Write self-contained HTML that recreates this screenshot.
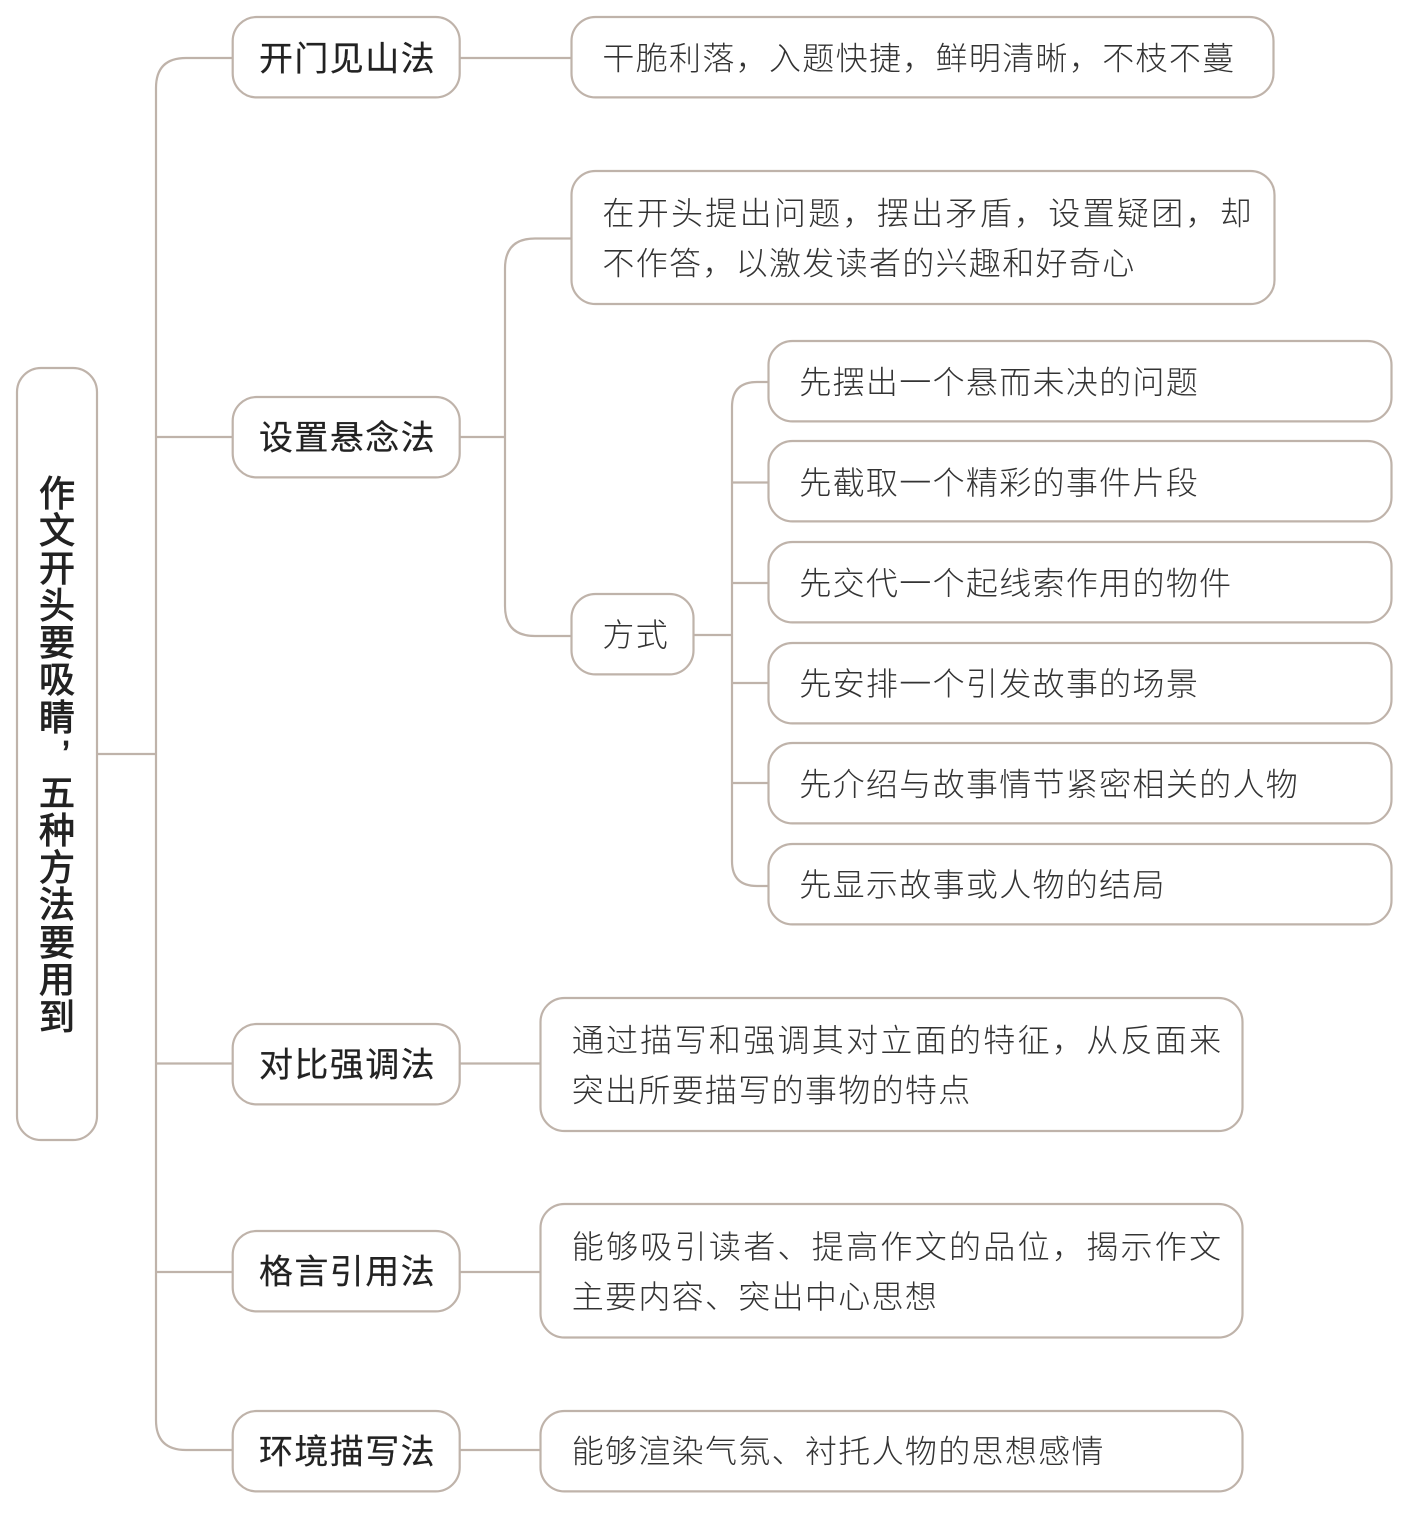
<!DOCTYPE html>
<html lang="zh"><head><meta charset="utf-8"><style>
html,body{margin:0;padding:0;background:#fff}
svg{display:block}
text{font-family:"Liberation Sans","Noto Sans CJK SC",sans-serif;white-space:pre}
.t{font-size:32px;letter-spacing:1.32px;fill:#333;font-weight:300}
.w{letter-spacing:2.3px}
.h{font-size:34px;letter-spacing:1.4px;fill:#222;font-weight:400;stroke:#222;stroke-width:.2px}
.r{font-size:36px;fill:#222;font-weight:400;stroke:#222;stroke-width:.9px}
.b{fill:#fff;stroke:#bfb3aa;stroke-width:2.2}
.l{fill:none;stroke:#bfb3aa;stroke-width:2.2}
</style></head><body>
<svg xmlns="http://www.w3.org/2000/svg" width="1409" height="1514" viewBox="0 0 1409 1514">
<rect width="1409" height="1514" fill="#fff"/>
<path class="l" d="M97 754H156M232 58H186Q156 58 156 88V1420Q156 1450 186 1450H232M156 437H232M156 1063.5H232M156 1272H232"/>
<path class="l" d="M460 58H571M460 437H505M571 238.500H535Q505 238.500 505 268.500V606Q505 636 535 636H571M460 1063.500H540M460 1272H540M460 1450H540"/>
<path class="l" d="M694 635H732M768 382H757Q732 382 732 407V861Q732 886 757 886H768M732 482.500H768M732 583H768M732 683H768M732 783H768"/>
<rect class="b" x="17" y="368" width="80" height="772" rx="24"/>
<g>
<rect class="b" x="232.700" y="17" width="227" height="80.400" rx="24"/>
<rect class="b" x="232.700" y="397" width="227" height="80.400" rx="24"/>
<rect class="b" x="232.700" y="1024" width="227" height="80.400" rx="24"/>
<rect class="b" x="232.700" y="1231" width="227" height="80.400" rx="24"/>
<rect class="b" x="232.700" y="1411" width="227" height="80.400" rx="24"/>
<rect class="b" x="571.500" y="17" width="702" height="80.400" rx="24"/>
<rect class="b" x="571.500" y="171" width="703" height="133" rx="24"/>
<rect class="b" x="571.500" y="594" width="122" height="80.400" rx="24"/>
<rect class="b" x="768.500" y="341" width="623" height="80.400" rx="24"/>
<rect class="b" x="768.500" y="441" width="623" height="80.400" rx="24"/>
<rect class="b" x="768.500" y="542" width="623" height="80.400" rx="24"/>
<rect class="b" x="768.500" y="643" width="623" height="80.400" rx="24"/>
<rect class="b" x="768.500" y="743" width="623" height="80.400" rx="24"/>
<rect class="b" x="768.500" y="844" width="623" height="80.400" rx="24"/>
<rect class="b" x="540.500" y="998" width="702" height="133" rx="24"/>
<rect class="b" x="540.500" y="1204" width="702" height="133.500" rx="24"/>
<rect class="b" x="540.500" y="1411" width="702" height="80.400" rx="24"/>
</g>
<g text-anchor="middle">
<text class="r" x="57" y="506">作</text><text class="r" x="57" y="543">文</text><text class="r" x="57" y="581">开</text><text class="r" x="57" y="618">头</text><text class="r" x="57" y="655">要</text><text class="r" x="57" y="692">吸</text><text class="r" x="57" y="730">睛</text><text class="r" x="66" y="745">,</text><text class="r" x="57" y="805.500">五</text><text class="r" x="57" y="843">种</text><text class="r" x="57" y="880">方</text><text class="r" x="57" y="917">法</text><text class="r" x="57" y="955">要</text><text class="r" x="57" y="992">用</text><text class="r" x="57" y="1029.500">到</text>
</g>
<text class="h" x="259" y="70.500">开门见山法</text>
<text class="h" x="259" y="449.500">设置悬念法</text>
<text class="h" x="259" y="1076.500">对比强调法</text>
<text class="h" x="259" y="1283.500">格言引用法</text>
<text class="h" x="259" y="1463.500">环境描写法</text>
<text class="t" x="602.400" y="69.500">干脆利落，入题快捷，鲜明清晰，不枝不蔓</text>
<text class="t w" x="602.400" y="224.500">在开头提出问题，摆出矛盾，设置疑团，却</text>
<text class="t" x="602.400" y="274.500">不作答，以激发读者的兴趣和好奇心</text>
<text class="t" x="602.400" y="646">方式</text>
<text class="t" x="799.300" y="393.500">先摆出一个悬而未决的问题</text>
<text class="t" x="799.300" y="494">先截取一个精彩的事件片段</text>
<text class="t" x="799.300" y="594.500">先交代一个起线索作用的物件</text>
<text class="t" x="799.300" y="695">先安排一个引发故事的场景</text>
<text class="t" x="799.300" y="795.500">先介绍与故事情节紧密相关的人物</text>
<text class="t" x="799.300" y="896">先显示故事或人物的结局</text>
<text class="t w" x="571.700" y="1051.500">通过描写和强调其对立面的特征，从反面来</text>
<text class="t" x="571.700" y="1101.500">突出所要描写的事物的特点</text>
<text class="t w" x="571.700" y="1258">能够吸引读者、提高作文的品位，揭示作文</text>
<text class="t" x="571.700" y="1308">主要内容、突出中心思想</text>
<text class="t" x="571.700" y="1462.500">能够渲染气氛、衬托人物的思想感情</text>
</svg>
</body></html>
